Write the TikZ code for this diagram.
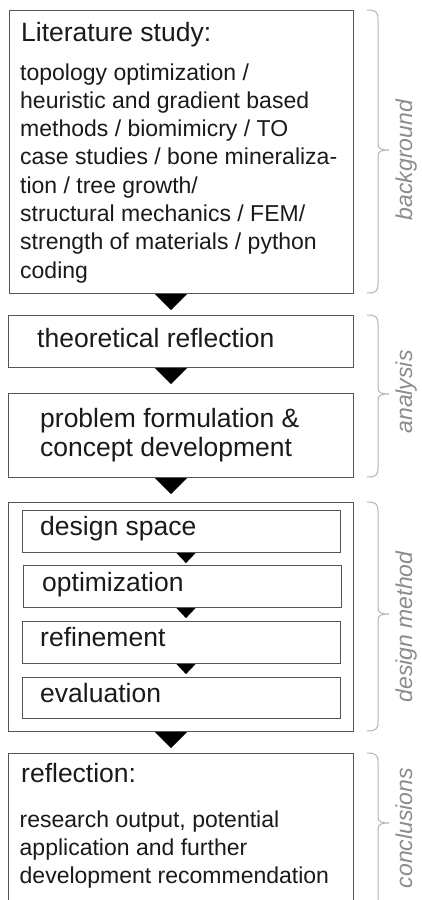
\documentclass[tikz,border=0pt]{standalone}
\usepackage{fontspec}
\setmainfont{Liberation Sans}
\usetikzlibrary{calc}
\definecolor{boxline}{HTML}{555555}
\definecolor{bracegray}{HTML}{B4B4B4}
\definecolor{labelgray}{HTML}{8C8C8C}
\definecolor{ink}{HTML}{1A1A1A}

% curly brace on the right of a phase: top y, bottom y, tip y
\newcommand\phasebrace[3]{%
  \draw[bracestroke] (367,#1) .. controls (376,#1) and (378,#1+2) .. (378,#1+9)
    -- (378,#3-6) .. controls (378,#3-1) and (382,#3) .. (389,#3)
    .. controls (382,#3) and (378,#3+1) .. (378,#3+6)
    -- (378,#2-9) .. controls (378,#2-2) and (376,#2) .. (367,#2);}

% brace that runs on past the bottom edge: top y, tip y
\newcommand\openbrace[2]{%
  \draw[bracestroke] (367,#1) .. controls (376,#1) and (378,#1+2) .. (378,#1+9)
    -- (378,#2-6) .. controls (378,#2-1) and (382,#2) .. (389,#2)
    .. controls (382,#2) and (378,#2+1) .. (378,#2+6)
    -- (378,910);}

% black drop marker under a box: node, x centre, half width, height
\newcommand\dropmark[4]{%
  \fill[tipfill] (#1.south -| #2,0) ++(-#3,0) -- ++(2*#3,0) -- ++(-#3,#4) -- cycle;}

\begin{document}
\begin{tikzpicture}[x=1pt,y=-1pt,
  box/.style={draw=boxline, line width=1.1pt, inner sep=0pt, anchor=north west},
  head/.style={anchor=base west, inner sep=0pt, text=ink, font=\fontsize{26.5}{30}\selectfont},
  body/.style={anchor=base west, inner sep=0pt, text=ink, font=\fontsize{23}{28}\selectfont},
  tipfill/.style={fill=black},
  bracestroke/.style={draw=bracegray, line width=1pt},
  phase/.style={rotate=90, anchor=base, inner sep=0pt, text=labelgray,
                font=\fontsize{23}{26}\selectfont\itshape}]

\clip (0,0) rectangle (422,900);
\fill[white] (0,0) rectangle (422,900);

% ---- boxes
\node[box, minimum width=344pt, minimum height=283pt] (lit)  at (9,10)  {};
\node[box, minimum width=345pt, minimum height=52pt]  (theo) at (8,315) {};
\node[box, minimum width=345pt, minimum height=84pt]  (prob) at (8,393) {};
\node[box, minimum width=345pt, minimum height=229pt] (dm)   at (8,502) {};
\node[box, minimum width=318pt, minimum height=42pt]  (ds)   at (22,510) {};
\node[box, minimum width=318pt, minimum height=42pt]  (opt)  at (23,565) {};
\node[box, minimum width=318pt, minimum height=42pt]  (rfn)  at (22,621) {};
\node[box, minimum width=318pt, minimum height=41pt]  (eval) at (22,677) {};
\node[box, minimum width=345pt, minimum height=170pt] (refl) at (8,753) {};

% ---- texts
\node[head] (lit-title) at (21,41) {Literature study:};
\foreach \ln [count=\k from 0] in {topology optimization /,
    heuristic and gradient based, methods / biomimicry / TO,
    case studies / bone mineraliza-, tion / tree growth/,
    structural mechanics / FEM/, strength of materials / python, coding}
  \node[body] (lit-\k) at (20,80+28.3*\k) {\ln};

\node[head] (theo-t) at (37,347) {theoretical reflection};
\node[head] (prob-a) at (40,427) {problem formulation \&};
\node[head] (prob-b) at (40,456) {concept development};

\node[head] (ds-t)   at (40,535.5) {design space};
\node[head] (opt-t)  at (42,591)   {optimization};
\node[head] (rfn-t)  at (40,646.5) {refinement};
\node[head] (eval-t) at (40,702)   {evaluation};

\node[head] (refl-title) at (21,782) {reflection:};
\foreach \ln [count=\k from 0] in {{research output, potential},
    application and further, development recommendation}
  \node[body] (refl-\k) at (19.5,827+28*\k) {\ln};

% ---- drop markers between steps
\dropmark{lit}{171}{16}{16}
\dropmark{theo}{171}{16}{16}
\dropmark{prob}{171}{16}{16}
\dropmark{dm}{171}{16}{16}
\dropmark{ds}{186}{9.5}{10}
\dropmark{opt}{186}{9.5}{10}
\dropmark{rfn}{186}{9.5}{10}

% ---- phase braces and labels
\phasebrace{10}{293}{150}
\phasebrace{315}{477}{394}
\phasebrace{502}{731}{614}
\openbrace{753}{823}

\node[phase] (ph-bg) at (412,160) {background};
\node[phase] (ph-an) at (412,392) {analysis};
\node[phase] (ph-dm) at (412,627) {design method};
\node[phase] (ph-cn) at (412,828) {conclusions};
\end{tikzpicture}
\end{document}
